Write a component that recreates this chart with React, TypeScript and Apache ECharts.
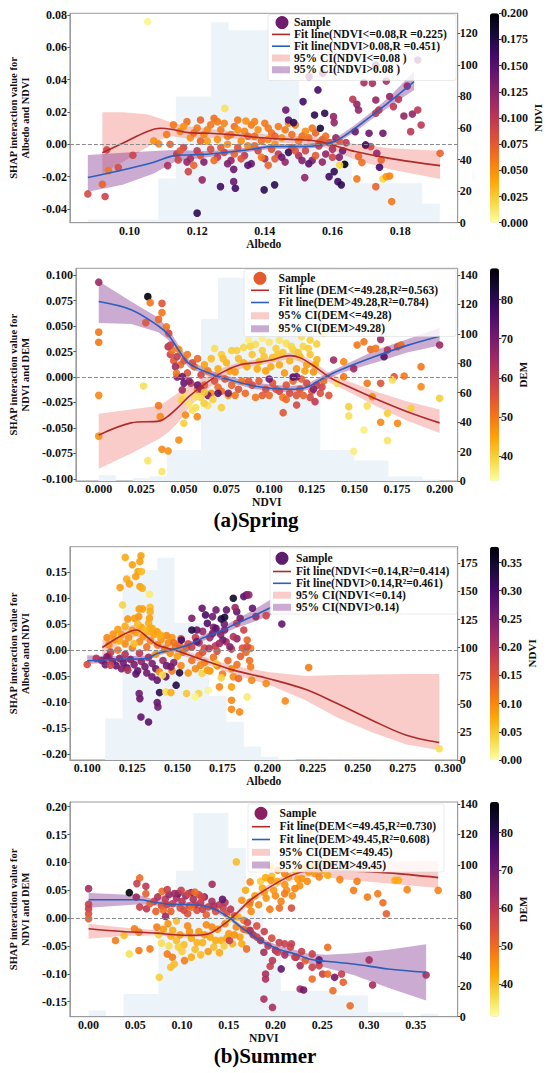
import React, { useEffect, useRef } from 'react';
import * as echarts from 'echarts';

const W = 550;
const H = 1073;
const FONT = '"Liberation Serif", "Times New Roman", serif';
const CMAP = ['#fcffa4', '#f6d746', '#fca50a', '#f37819', '#dd513a', '#bc3754', '#932667', '#6a176e', '#420a68', '#160b39', '#000004'];
const RED = '#b02a2a';
const BLUE = '#2b5fba';
const PINK = 'rgba(240,128,120,0.40)';
const PURPLE = 'rgba(125,45,140,0.40)';
const HIST = '#edf4f9';

// ---------------- Panel 1: Spring, Albedo x NDVI ----------------
const P1_HIST_EDGES = [0.0877, 0.0929, 0.0981, 0.1033, 0.1085, 0.1137, 0.1189, 0.1241, 0.1293, 0.1345, 0.1397, 0.1449, 0.1501, 0.1553, 0.1605, 0.1657, 0.1709, 0.1761, 0.1813, 0.1865, 0.1917];
const P1_HIST_COUNTS = [2, 2, 2, 2, 28, 80, 80, 127, 122, 122, 122, 90, 60, 45, 45, 25, 25, 25, 25, 12];
const P1_RED_X = [0.092, 0.098, 0.1051, 0.1092, 0.1123, 0.1174, 0.1236, 0.1308, 0.141, 0.1513, 0.1564, 0.1615, 0.1667, 0.1769, 0.1918];
const P1_RED_Y = [-0.0052, 0.0006, 0.0078, 0.0099, 0.0093, 0.0072, 0.0068, 0.0058, 0.0037, 0.0027, 0.0016, -0.0014, -0.0045, -0.0087, -0.0132];
const P1_RED_HI = [0.0198, 0.0198, 0.0185, 0.016, 0.0135, 0.011, 0.0095, 0.008, 0.006, 0.005, 0.0042, 0.0025, 0.0002, -0.0025, -0.004];
const P1_RED_LO = [-0.018, -0.011, -0.002, 0.003, 0.005, 0.0035, 0.004, 0.0036, 0.0014, 0.0004, -0.001, -0.005, -0.0095, -0.0155, -0.0215];
const P1_BLUE_X = [0.0877, 0.098, 0.1072, 0.1133, 0.1174, 0.1236, 0.1308, 0.138, 0.142, 0.1513, 0.1564, 0.1615, 0.1667, 0.1718, 0.1769, 0.1841];
const P1_BLUE_Y = [-0.0206, -0.0159, -0.0111, -0.007, -0.0066, -0.006, -0.0045, -0.0025, -0.0014, -0.0014, -0.0004, 0.0027, 0.0099, 0.0181, 0.0264, 0.0388];
const P1_BLUE_HI = [-0.0066, -0.0052, -0.0042, -0.0035, -0.0038, -0.0042, -0.003, -0.0012, 0.0, 0.0, 0.0012, 0.0045, 0.012, 0.0205, 0.0295, 0.045];
const P1_BLUE_LO = [-0.0293, -0.025, -0.018, -0.011, -0.0095, -0.0078, -0.006, -0.0038, -0.0028, -0.0028, -0.002, 0.001, 0.0078, 0.0158, 0.0233, 0.0336];
const P1_POINTS = [
  [0.113, 0.012, 0.06], [0.115, 0.008, 0.055], [0.117, 0.014, 0.065], [0.118, 0.004, 0.05], [0.12, 0.01, 0.06], [0.121, 0.015, 0.07], [0.122, 0.006, 0.055], [0.124, 0.012, 0.06], [0.125, 0.016, 0.065], [0.126, 0.003, 0.05], [0.127, 0.009, 0.06], [0.128, 0.013, 0.055], [0.13, 0.006, 0.06], [0.131, 0.011, 0.065], [0.132, 0.015, 0.06], [0.133, 0.002, 0.05], [0.134, 0.008, 0.055], [0.136, 0.012, 0.06], [0.137, 0.005, 0.065], [0.138, 0.009, 0.05], [0.14, 0.013, 0.06], [0.141, 0.003, 0.055], [0.142, 0.007, 0.065], [0.144, 0.011, 0.06], [0.145, 0.004, 0.05], [0.146, 0.009, 0.06], [0.148, 0.006, 0.065], [0.149, 0.012, 0.055], [0.15, 0.002, 0.06], [0.152, 0.008, 0.05], [0.153, 0.004, 0.065], [0.155, 0.007, 0.07], [0.157, 0.003, 0.075], [0.159, 0.001, 0.08], [0.123, 0.002, 0.045], [0.129, 0.0, 0.05], [0.135, -0.001, 0.055], [0.143, 0.0, 0.05],
  [0.111, 0.006, 0.06], [0.112, 0.0, 0.07], [0.116, 0.011, 0.05], [0.119, 0.007, 0.065], [0.121, 0.002, 0.07], [0.123, 0.009, 0.055], [0.126, 0.014, 0.06], [0.129, 0.005, 0.06], [0.132, 0.009, 0.05], [0.135, 0.005, 0.07], [0.137, 0.014, 0.055], [0.139, 0.002, 0.065], [0.141, 0.01, 0.06], [0.143, 0.005, 0.07], [0.147, 0.013, 0.055], [0.151, 0.005, 0.065], [0.154, 0.01, 0.06], [0.156, 0.001, 0.07], [0.158, 0.005, 0.065],
  [0.114, -0.006, 0.1], [0.116, -0.002, 0.09], [0.118, -0.009, 0.11], [0.12, -0.004, 0.1], [0.122, -0.011, 0.13], [0.124, -0.003, 0.085], [0.126, -0.008, 0.1], [0.128, -0.005, 0.09], [0.13, -0.01, 0.12], [0.132, -0.002, 0.08], [0.134, -0.007, 0.1], [0.136, -0.012, 0.14], [0.138, -0.004, 0.09], [0.14, -0.009, 0.11], [0.142, -0.003, 0.08], [0.144, -0.006, 0.1], [0.146, -0.011, 0.12], [0.148, -0.002, 0.085], [0.15, -0.007, 0.11], [0.152, -0.004, 0.09], [0.154, -0.01, 0.13], [0.156, -0.001, 0.1], [0.158, -0.006, 0.12], [0.16, -0.003, 0.11], [0.162, -0.008, 0.13], [0.164, 0.001, 0.1], [0.161, 0.004, 0.12], [0.163, -0.004, 0.14], [0.147, -0.005, 0.17], [0.139, -0.008, 0.06], [0.131, -0.006, 0.07], [0.125, -0.01, 0.065], [0.119, -0.013, 0.07], [0.153, -0.012, 0.15], [0.141, -0.013, 0.07],
  [0.115, -0.004, 0.075], [0.121, -0.007, 0.08], [0.127, -0.002, 0.075], [0.133, -0.009, 0.08], [0.137, -0.001, 0.07], [0.143, -0.009, 0.075], [0.149, -0.004, 0.08], [0.155, -0.007, 0.075], [0.16, -0.008, 0.09], [0.162, 0.002, 0.08], [0.117, -0.011, 0.12], [0.129, -0.012, 0.13], [0.145, -0.008, 0.14], [0.151, -0.01, 0.13], [0.157, -0.011, 0.12], [0.135, -0.013, 0.15],
  [0.1054, 0.0758, 0.005], [0.0877, -0.0307, 0.085], [0.092, -0.0247, 0.07], [0.0928, -0.0323, 0.09], [0.0933, -0.0035, 0.09], [0.0938, -0.0163, 0.06], [0.0967, -0.0144, 0.085], [0.101, -0.0068, 0.09], [0.1072, 0.0021, 0.05], [0.1087, 0.0002, 0.055], [0.1113, -0.0132, 0.11], [0.1144, -0.0097, 0.09], [0.1174, -0.0169, 0.09], [0.12, -0.0426, 0.17], [0.1215, -0.022, 0.12], [0.1282, 0.0222, 0.015], [0.1269, -0.0262, 0.16], [0.1308, -0.0231, 0.14], [0.1313, -0.0272, 0.16], [0.1308, -0.0155, 0.14], [0.1344, 0.0144, 0.05], [0.1398, -0.0282, 0.17], [0.1429, -0.0251, 0.17], [0.1462, 0.0212, 0.14], [0.147, 0.015, 0.15], [0.1485, 0.0134, 0.17], [0.1513, 0.0264, 0.16], [0.1518, -0.0206, 0.12], [0.1531, 0.0418, 0.13], [0.1557, 0.0336, 0.16], [0.1547, 0.0181, 0.17], [0.1564, 0.0099, 0.18], [0.1577, 0.0192, 0.17], [0.1571, 0.0439, 0.13], [0.159, -0.02, 0.16], [0.1605, -0.0169, 0.17], [0.1616, -0.0231, 0.16], [0.1626, -0.0251, 0.17], [0.1636, -0.0124, 0.2], [0.1621, -0.0128, 0.02], [0.1603, 0.0171, 0.12], [0.1605, 0.0134, 0.12], [0.166, 0.0278, 0.1], [0.1672, 0.0247, 0.12], [0.1677, 0.0212, 0.12], [0.1667, 0.0078, 0.14], [0.1693, 0.0381, 0.11], [0.1718, 0.0377, 0.11], [0.1728, 0.0274, 0.12], [0.1728, 0.0192, 0.1], [0.1708, 0.0068, 0.14], [0.1713, -0.0014, 0.09], [0.1731, -0.0056, 0.12], [0.1744, -0.0097, 0.07], [0.1749, 0.0068, 0.14], [0.1737, 0.0212, 0.1], [0.1759, 0.0391, 0.11], [0.1769, 0.0295, 0.12], [0.178, 0.0233, 0.1], [0.1795, 0.0278, 0.1], [0.1811, 0.0175, 0.12], [0.1836, 0.0187, 0.12], [0.1831, 0.0078, 0.1], [0.1852, 0.0212, 0.1], [0.1672, -0.0214, 0.06], [0.1687, -0.0113, 0.065], [0.1677, -0.0076, 0.07], [0.1698, -0.0008, 0.06], [0.1728, -0.0262, 0.07], [0.1749, -0.0214, 0.02], [0.1759, -0.02, 0.045], [0.1769, -0.0196, 0.055], [0.1775, -0.0354, 0.06], [0.1739, -0.0142, 0.16], [0.1862, 0.0119, 0.1], [0.1918, -0.0056, 0.07], [0.1852, 0.0521, 0.12], [0.1728, 0.049, 0.13], [0.1698, -0.0004, 0.16], [0.1821, 0.036, 0.12],
];

// ---------------- Panel 2: Spring, NDVI x DEM ----------------
const P2_HIST_EDGES = [0, 0.01, 0.02, 0.03, 0.04, 0.05, 0.06, 0.07, 0.08, 0.09, 0.1, 0.11, 0.12, 0.13, 0.14, 0.15, 0.16, 0.17, 0.18, 0.19, 0.2];
const P2_HIST_COUNTS = [4, 0, 2, 3, 21, 21, 110, 138, 138, 110, 103, 103, 57, 21, 21, 14, 14, 3, 3, 1];
const P2_RED_X = [0, 0.019, 0.036, 0.041, 0.047, 0.053, 0.063, 0.073, 0.083, 0.092, 0.102, 0.112, 0.118, 0.126, 0.136, 0.146, 0.162, 0.181, 0.2];
const P2_RED_Y = [-0.057, -0.045, -0.043, -0.038, -0.029, -0.019, -0.006, 0.005, 0.012, 0.014, 0.017, 0.021, 0.019, 0.011, -0.001, -0.009, -0.021, -0.034, -0.045];
const P2_RED_HI = [-0.036, -0.032, -0.028, -0.022, -0.015, -0.008, 0.0, 0.009, 0.015, 0.017, 0.02, 0.024, 0.023, 0.015, 0.003, -0.004, -0.014, -0.024, -0.032];
const P2_RED_LO = [-0.09, -0.075, -0.06, -0.054, -0.044, -0.03, -0.013, 0.0, 0.008, 0.011, 0.014, 0.018, 0.015, 0.007, -0.006, -0.014, -0.028, -0.043, -0.055];
const P2_BLUE_X = [0, 0.019, 0.035, 0.041, 0.047, 0.053, 0.063, 0.073, 0.092, 0.112, 0.122, 0.132, 0.142, 0.162, 0.181, 0.2];
const P2_BLUE_Y = [0.074, 0.066, 0.05, 0.041, 0.026, 0.013, 0.005, -0.001, -0.009, -0.012, -0.01, -0.001, 0.007, 0.02, 0.031, 0.04];
const P2_BLUE_HI = [0.094, 0.074, 0.058, 0.047, 0.031, 0.017, 0.008, 0.002, -0.006, -0.009, -0.007, 0.002, 0.01, 0.026, 0.037, 0.048];
const P2_BLUE_LO = [0.053, 0.052, 0.044, 0.036, 0.021, 0.009, 0.002, -0.004, -0.012, -0.015, -0.013, -0.004, 0.004, 0.014, 0.024, 0.031];
const P2_POINTS = [
  [0.062, 0.012, 45], [0.066, 0.018, 42], [0.07, 0.008, 44], [0.072, 0.022, 40], [0.075, 0.014, 43], [0.078, 0.026, 40], [0.08, 0.005, 46], [0.082, 0.018, 42], [0.085, 0.029, 39], [0.087, 0.01, 44], [0.09, 0.022, 41], [0.092, 0.032, 38], [0.094, 0.015, 43], [0.096, 0.026, 40], [0.098, 0.006, 45], [0.1, 0.034, 37], [0.102, 0.019, 42], [0.104, 0.028, 40], [0.106, 0.012, 44], [0.108, 0.024, 41], [0.11, 0.033, 38], [0.112, 0.016, 43], [0.114, 0.027, 40], [0.116, 0.008, 46], [0.118, 0.02, 42], [0.12, 0.03, 39], [0.122, 0.012, 45], [0.124, 0.022, 41], [0.126, 0.005, 47], [0.128, 0.017, 43], [0.068, 0.028, 38], [0.088, 0.036, 36], [0.096, 0.038, 36], [0.106, 0.036, 37],
  [0.073, 0.018, 42], [0.077, 0.006, 45], [0.081, 0.026, 40], [0.085, 0.014, 43], [0.089, 0.03, 39], [0.093, 0.008, 44], [0.097, 0.02, 41], [0.101, 0.01, 44], [0.105, 0.022, 41], [0.109, 0.004, 46], [0.113, 0.03, 39], [0.117, 0.024, 41], [0.121, 0.006, 45], [0.123, 0.028, 40], [0.127, 0.012, 44],
  [0.052, 0.004, 55], [0.054, -0.006, 60], [0.056, 0.01, 52], [0.058, -0.012, 50], [0.06, 0.002, 58], [0.062, -0.008, 54], [0.064, 0.006, 50], [0.066, -0.016, 48], [0.068, -0.004, 56], [0.07, -0.01, 52], [0.074, -0.002, 55], [0.076, -0.018, 46], [0.078, -0.008, 53], [0.082, -0.012, 55], [0.084, -0.004, 50], [0.086, -0.016, 52], [0.09, -0.008, 56], [0.092, -0.02, 50], [0.094, -0.004, 54], [0.098, -0.012, 57], [0.1, -0.018, 52], [0.102, -0.006, 55], [0.106, -0.014, 58], [0.108, -0.02, 50], [0.11, -0.008, 55], [0.112, -0.016, 57], [0.114, -0.004, 52], [0.118, -0.012, 56], [0.12, -0.018, 53], [0.122, -0.006, 58], [0.125, -0.014, 55], [0.128, -0.008, 60], [0.13, -0.016, 56], [0.132, -0.004, 52],
  [0.072, -0.014, 52], [0.08, -0.018, 50], [0.088, -0.004, 55], [0.096, -0.018, 54], [0.104, -0.012, 56], [0.11, -0.022, 52], [0.116, -0.018, 55], [0.124, -0.02, 57], [0.119, -0.002, 54], [0.131, -0.01, 58], [0.135, -0.018, 55],
  [0.046, 0.0, 70], [0.05, -0.006, 72], [0.053, -0.004, 68], [0.058, -0.008, 72], [0.06, -0.012, 66], [0.064, -0.018, 70], [0.07, -0.016, 74], [0.076, -0.016, 70], [0.1, -0.002, 72], [0.114, 0.0, 76], [0.126, -0.012, 68],
  [0.05, -0.016, 38], [0.053, -0.026, 37], [0.057, -0.03, 38], [0.06, -0.02, 39], [0.064, -0.028, 38], [0.067, -0.022, 40], [0.072, -0.03, 40], [0.062, -0.015, 41],
  [0.042, 0.022, 58], [0.044, 0.016, 55], [0.046, 0.02, 60], [0.048, 0.012, 52], [0.05, 0.016, 55], [0.052, 0.022, 50], [0.055, 0.014, 57], [0.058, 0.018, 52], [0.043, 0.026, 50], [0.047, 0.027, 48],
  [0, 0.093, 65], [0, 0.044, 50], [0, 0.034, 50], [0, -0.018, 48], [0, -0.058, 47], [0.0288, 0.0788, 88], [0.0302, 0.0729, 50], [0.0371, 0.0722, 55], [0.0371, 0.0631, 50], [0.0351, 0.0565, 52], [0.0276, 0.0533, 55], [0.0397, 0.0493, 50], [0.0411, 0.0428, 57], [0.0407, 0.0297, 62], [0.042, 0.0314, 58], [0.0263, -0.0088, 38], [0.0351, -0.0281, 50], [0.0361, -0.0389, 48], [0.0371, -0.0709, 48], [0.0407, -0.0725, 47], [0.0288, -0.082, 37], [0.0371, -0.0928, 37], [0.045, 0.0101, 65], [0.0456, 0.0036, 50], [0.049, 0.0003, 72], [0.049, -0.0127, 65], [0.0486, -0.0225, 40], [0.0499, -0.0454, 40], [0.047, -0.0618, 47], [0.0509, -0.0373, 48], [0.0549, -0.0324, 38], [0.0578, -0.0389, 48], [0.0569, -0.0193, 38], [0.0618, -0.0258, 40],
  [0.1516, 0.0314, 50], [0.1556, 0.0346, 50], [0.1595, 0.0271, 52], [0.1654, 0.0369, 65], [0.1625, 0.0281, 50], [0.1674, 0.0199, 75], [0.1694, 0.0265, 62], [0.1753, 0.0297, 57], [0.1773, 0.0314, 52], [0.1733, 0.0003, 55], [0.1792, 0.001, 50], [0.1723, -0.0029, 38], [0.1891, 0.0101, 50], [0.1891, -0.0095, 48], [0.2, 0.0314, 65], [0.2, -0.0209, 40], [0.1832, -0.0307, 40], [0.1753, -0.0454, 48], [0.1694, -0.0356, 40], [0.1654, -0.0444, 48], [0.1575, -0.0284, 38], [0.1605, -0.0193, 48], [0.1556, -0.052, 36], [0.1496, -0.0729, 36], [0.1467, -0.0291, 40], [0.1467, -0.0382, 38], [0.1694, -0.0624, 37], [0.1654, -0.0062, 55], [0.1575, -0.0062, 50], [0.1496, 0.0082, 65], [0.1437, 0.0003, 50], [0.1378, 0.0167, 65], [0.1398, -0.0062, 38], [0.1437, 0.015, 48], [0.1082, -0.035, 55], [0.1161, -0.0275, 57], [0.1269, -0.0242, 60], [0.1161, 0.0003, 72], [0.1279, 0.0324, 40], [0.1319, 0.0428, 38], [0.124, 0.0363, 40], [0.119, 0.0395, 38], [0.1121, 0.0461, 37], [0.1062, 0.051, 38],
];

// ---------------- Panel 3: Summer, Albedo x NDVI ----------------
const P3_HIST_EDGES = [0.11, 0.1196, 0.1292, 0.1388, 0.1484, 0.158, 0.1676, 0.1772, 0.1868, 0.1964, 0.206, 0.2156];
const P3_HIST_COUNTS = [37, 165, 169, 180, 122, 122, 57, 34, 12, 3, 1];
const P3_RED_X = [0.1084, 0.1196, 0.1273, 0.133, 0.1388, 0.1484, 0.1618, 0.181, 0.2002, 0.2213, 0.2386, 0.2578, 0.277, 0.2952];
const P3_RED_Y = [0.005, 0.029, 0.0386, 0.0258, 0.0097, 0.0, -0.0161, -0.0386, -0.0547, -0.076, -0.103, -0.135, -0.164, -0.178];
const P3_RED_HI = [0.02, 0.042, 0.05, 0.036, 0.017, 0.005, -0.01, -0.03, -0.042, -0.05, -0.048, -0.047, -0.046, -0.046];
const P3_RED_LO = [-0.012, 0.016, 0.027, 0.016, 0.003, -0.005, -0.022, -0.047, -0.066, -0.097, -0.13, -0.158, -0.182, -0.193];
const P3_BLUE_X = [0.1, 0.1138, 0.133, 0.1388, 0.1484, 0.156, 0.1637, 0.1752, 0.1829, 0.1906, 0.2021];
const P3_BLUE_Y = [-0.0206, -0.018, -0.0161, -0.0064, 0.0019, 0.0097, 0.0225, 0.0386, 0.0515, 0.0631, 0.0824];
const P3_BLUE_HI = [-0.01, -0.012, -0.011, -0.002, 0.006, 0.014, 0.028, 0.045, 0.06, 0.074, 0.098];
const P3_BLUE_LO = [-0.027, -0.024, -0.021, -0.011, -0.002, 0.005, 0.017, 0.032, 0.043, 0.052, 0.068];
const P3_POINTS = [
  [0.112, 0.01, 0.1], [0.115, 0.02, 0.09], [0.117, 0.0, 0.12], [0.119, 0.03, 0.08], [0.121, 0.012, 0.1], [0.123, 0.024, 0.09], [0.125, 0.004, 0.11], [0.127, 0.034, 0.08], [0.129, 0.016, 0.1], [0.131, 0.026, 0.09], [0.133, 0.006, 0.12], [0.135, 0.018, 0.1], [0.137, 0.03, 0.08], [0.139, 0.01, 0.11], [0.141, 0.02, 0.09], [0.143, 0.002, 0.12], [0.145, 0.014, 0.1], [0.147, 0.024, 0.09], [0.149, 0.006, 0.11], [0.151, 0.01, 0.13], [0.153, -0.004, 0.12], [0.155, 0.004, 0.14], [0.118, 0.018, 0.07], [0.126, 0.012, 0.06], [0.134, 0.036, 0.07], [0.14, 0.028, 0.06], [0.146, -0.006, 0.1], [0.15, -0.012, 0.08], [0.138, -0.008, 0.09],
  [0.117, 0.04, 0.08], [0.121, 0.046, 0.07], [0.125, 0.038, 0.09], [0.13, 0.044, 0.08], [0.136, 0.042, 0.07], [0.128, 0.05, 0.06], [0.144, 0.028, 0.1], [0.148, 0.014, 0.12], [0.152, 0.022, 0.14], [0.156, 0.012, 0.16], [0.16, 0.024, 0.18], [0.164, 0.036, 0.22], [0.17, 0.044, 0.24], [0.176, 0.05, 0.26], [0.111, 0.024, 0.1],
  [0.108, -0.02, 0.24], [0.11, -0.028, 0.26], [0.112, -0.012, 0.22], [0.114, -0.022, 0.25], [0.116, -0.03, 0.27], [0.118, -0.016, 0.23], [0.12, -0.024, 0.26], [0.122, -0.034, 0.28], [0.124, -0.018, 0.24], [0.126, -0.028, 0.25], [0.128, -0.04, 0.27], [0.13, -0.022, 0.23], [0.132, -0.032, 0.26], [0.134, -0.014, 0.21], [0.136, -0.026, 0.25], [0.138, -0.036, 0.27], [0.142, -0.02, 0.22], [0.144, -0.03, 0.26], [0.148, -0.024, 0.24], [0.105, -0.016, 0.2], [0.113, -0.004, 0.18], [0.121, -0.008, 0.2], [0.129, -0.006, 0.19], [0.119, -0.036, 0.25], [0.127, -0.046, 0.28], [0.133, -0.044, 0.26],
  [0.14, -0.042, 0.1], [0.143, -0.05, 0.08], [0.147, -0.04, 0.11], [0.152, -0.03, 0.1], [0.156, -0.044, 0.09], [0.158, -0.02, 0.12], [0.16, -0.036, 0.1], [0.162, -0.01, 0.13], [0.165, -0.024, 0.11], [0.168, -0.04, 0.09], [0.17, -0.014, 0.12], [0.172, -0.03, 0.1], [0.175, -0.046, 0.11], [0.178, -0.02, 0.13], [0.18, -0.036, 0.1], [0.183, -0.028, 0.12], [0.185, -0.012, 0.14], [0.188, -0.004, 0.13], [0.19, -0.02, 0.12], [0.186, 0.004, 0.15],
  [0.158, 0.006, 0.18], [0.162, 0.014, 0.2], [0.165, 0.004, 0.17], [0.168, 0.024, 0.22], [0.171, 0.008, 0.19], [0.174, 0.03, 0.24], [0.177, 0.016, 0.21], [0.18, 0.002, 0.18], [0.183, 0.022, 0.23], [0.172, -0.002, 0.16], [0.164, -0.004, 0.15],
  [0.1211, 0.1783, 0.07], [0.125, 0.1642, 0.08], [0.1298, 0.1816, 0.08], [0.1292, 0.1706, 0.08], [0.1282, 0.1513, 0.08], [0.1301, 0.1513, 0.06], [0.1269, 0.1416, 0.08], [0.1219, 0.1365, 0.07], [0.1234, 0.1275, 0.08], [0.1182, 0.1204, 0.08], [0.1292, 0.1223, 0.08], [0.1305, 0.1191, 0.07], [0.1345, 0.1075, 0.02], [0.1196, 0.0869, 0.04], [0.1288, 0.0792, 0.08], [0.1307, 0.0792, 0.08], [0.1349, 0.0824, 0.06], [0.1349, 0.074, 0.07], [0.1225, 0.0599, 0.09], [0.1263, 0.0612, 0.08], [0.1286, 0.0644, 0.09], [0.1345, 0.0612, 0.08], [0.134, 0.0515, 0.07], [0.1349, 0.0418, 0.07], [0.132, 0.0386, 0.06], [0.1388, 0.0354, 0.08], [0.1407, 0.029, 0.07], [0.1144, 0.0309, 0.09],
  [0.1, -0.0277, 0.16], [0.1109, -0.0129, 0.25], [0.1129, -0.029, 0.17], [0.1225, -0.0386, 0.2], [0.1292, -0.0934, 0.27], [0.1288, -0.0837, 0.26], [0.1298, -0.1288, 0.27], [0.134, -0.1384, 0.28], [0.1388, -0.1011, 0.27], [0.1392, -0.1094, 0.26], [0.1401, -0.0818, 0.32], [0.1359, -0.0515, 0.26], [0.1388, -0.0579, 0.27], [0.1436, -0.0515, 0.27], [0.1493, -0.0676, 0.33], [0.1512, -0.0438, 0.33], [0.1464, -0.0322, 0.26], [0.1417, -0.0483, 0.03], [0.1436, -0.0805, 0.03], [0.1464, -0.0818, 0.07],
  [0.1551, -0.0837, 0.05], [0.1618, -0.0837, 0.04], [0.1599, -0.0901, 0.01], [0.1672, -0.0773, 0.01], [0.1733, -0.0708, 0.1], [0.1743, -0.0534, 0.04], [0.18, -0.0708, 0.08], [0.18, -0.0966, 0.1], [0.18, -0.114, 0.1], [0.1845, -0.1191, 0.1], [0.181, -0.0515, 0.1], [0.1839, -0.0547, 0.13], [0.1887, -0.0901, 0.02], [0.1906, -0.0322, 0.11], [0.1912, -0.0579, 0.1], [0.1992, -0.0644, 0.1], [0.2098, -0.0979, 0.1], [0.2228, -0.0335, 0.11], [0.2952, -0.1899, 0.03], [0.1628, -0.029, 0.1], [0.1637, -0.0451, 0.04], [0.1666, -0.0386, 0.08], [0.1714, -0.0258, 0.05],
  [0.158, 0.0612, 0.25], [0.1608, 0.0386, 0.27], [0.1637, 0.0805, 0.27], [0.1656, 0.0676, 0.3], [0.1695, 0.0644, 0.26], [0.1714, 0.0418, 0.28], [0.1743, 0.0599, 0.33], [0.1762, 0.0631, 0.34], [0.1714, 0.0773, 0.26], [0.1772, 0.0773, 0.27], [0.1829, 0.074, 0.27], [0.182, 0.0818, 0.22], [0.181, 0.0998, 0.35], [0.1868, 0.103, 0.28], [0.1883, 0.1062, 0.27], [0.1896, 0.1062, 0.23], [0.1916, 0.0805, 0.27], [0.1935, 0.0644, 0.22], [0.1992, 0.0663, 0.17], [0.2079, 0.0502, 0.27], [0.158, 0.0386, 0.33], [0.1608, 0.0161, 0.27], [0.1676, 0.0032, 0.2], [0.1752, 0.0193, 0.26], [0.1829, 0.0515, 0.18], [0.1868, 0.0386, 0.17], [0.1887, 0.0193, 0.13], [0.1906, 0.0032, 0.11], [0.1887, 0.0064, 0.16], [0.181, 0.0258, 0.2], [0.1791, 0.0064, 0.24], [0.1733, 0.0129, 0.22], [0.1695, 0.0322, 0.25], [0.1762, 0.0386, 0.24], [0.1848, 0.0612, 0.25], [0.1666, 0.0515, 0.29], [0.1522, 0.0193, 0.3],
];

// ---------------- Panel 4: Summer, NDVI x DEM ----------------
const P4_HIST_EDGES = [0, 0.0187, 0.0374, 0.0561, 0.0748, 0.0935, 0.1122, 0.1309, 0.1496, 0.1683, 0.187, 0.2057, 0.2244, 0.2431, 0.2618, 0.2805, 0.2992, 0.3179, 0.3366, 0.3553, 0.374];
const P4_HIST_COUNTS = [4, 0, 15, 15, 61, 96, 134, 134, 111, 70, 41, 17, 17, 17, 14, 14, 3, 3, 0, 2];
const P4_RED_X = [0, 0.036, 0.073, 0.0916, 0.11, 0.1285, 0.1433, 0.158, 0.1728, 0.1913, 0.2098, 0.2282, 0.2467, 0.2836, 0.3205, 0.3741];
const P4_RED_Y = [-0.0192, -0.024, -0.027, -0.03, -0.031, -0.028, -0.0132, 0.0078, 0.0318, 0.0529, 0.0709, 0.0829, 0.0847, 0.0841, 0.0811, 0.0727];
const P4_RED_HI = [-0.0102, -0.017, -0.022, -0.026, -0.027, -0.024, -0.009, 0.012, 0.037, 0.059, 0.078, 0.092, 0.1, 0.102, 0.102, 0.102];
const P4_RED_LO = [-0.0372, -0.032, -0.031, -0.034, -0.035, -0.032, -0.017, 0.003, 0.026, 0.046, 0.063, 0.074, 0.074, 0.068, 0.062, 0.054];
const P4_BLUE_X = [0, 0.0547, 0.0694, 0.0879, 0.11, 0.1285, 0.147, 0.1654, 0.1839, 0.2024, 0.2208, 0.2356, 0.2541, 0.2836, 0.3205, 0.3612];
const P4_BLUE_Y = [0.033, 0.033, 0.0288, 0.0246, 0.024, 0.0198, 0.0048, -0.0192, -0.0402, -0.0553, -0.0643, -0.0733, -0.0775, -0.0823, -0.0913, -0.0973];
const P4_BLUE_HI = [0.045, 0.041, 0.034, 0.029, 0.028, 0.024, 0.009, -0.015, -0.035, -0.049, -0.057, -0.064, -0.066, -0.063, -0.057, -0.047];
const P4_BLUE_LO = [0.0186, 0.025, 0.023, 0.02, 0.02, 0.016, 0.001, -0.023, -0.045, -0.061, -0.072, -0.082, -0.089, -0.102, -0.125, -0.148];
const P4_POINTS = [
  [0.07, 0.03, 58], [0.074, 0.038, 62], [0.078, 0.022, 55], [0.082, 0.034, 60], [0.086, 0.042, 65], [0.09, 0.026, 58], [0.094, 0.036, 62], [0.098, 0.018, 55], [0.1, 0.03, 60], [0.104, 0.04, 64], [0.108, 0.022, 57], [0.112, 0.034, 62], [0.116, 0.014, 55], [0.12, 0.028, 60], [0.124, 0.038, 66], [0.128, 0.02, 57], [0.132, 0.03, 62], [0.136, 0.012, 55], [0.14, 0.024, 60], [0.144, 0.018, 58], [0.148, 0.008, 55], [0.152, 0.016, 60], [0.156, 0.004, 56], [0.11, 0.046, 68], [0.096, 0.044, 70], [0.118, 0.042, 56], [0.088, 0.012, 52], [0.106, 0.008, 54], [0.126, 0.006, 52], [0.08, 0.014, 50],
  [0.072, 0.012, 52], [0.084, 0.024, 58], [0.092, 0.044, 64], [0.102, 0.014, 56], [0.114, 0.024, 60], [0.122, 0.016, 58], [0.134, 0.022, 62], [0.146, 0.028, 60],
  [0.085, -0.01, 45], [0.09, -0.022, 42], [0.094, -0.04, 40], [0.098, -0.03, 44], [0.102, -0.048, 40], [0.106, -0.014, 46], [0.11, -0.036, 42], [0.114, -0.056, 40], [0.118, -0.024, 44], [0.122, -0.044, 41], [0.126, -0.012, 46], [0.13, -0.034, 43], [0.134, -0.052, 40], [0.138, -0.02, 45], [0.142, -0.04, 42], [0.146, -0.01, 47], [0.15, -0.028, 44], [0.154, -0.046, 41], [0.158, -0.016, 46], [0.162, -0.034, 43], [0.166, -0.004, 48], [0.17, -0.022, 45], [0.12, -0.066, 40], [0.11, -0.07, 42], [0.1, -0.06, 38], [0.128, -0.06, 44], [0.14, -0.062, 42], [0.094, -0.005, 40], [0.08, -0.02, 44], [0.075, -0.03, 38], [0.078, -0.045, 36], [0.086, -0.05, 36], [0.15, -0.002, 38], [0.16, 0.002, 42], [0.145, -0.05, 38],
  [0.088, -0.032, 42], [0.096, -0.052, 38], [0.108, -0.024, 45], [0.116, -0.044, 41], [0.124, -0.03, 44], [0.132, -0.016, 46], [0.136, -0.04, 42], [0.148, -0.036, 43], [0.156, -0.03, 45], [0.164, -0.046, 42],
  [0.174, 0.012, 46], [0.178, 0.04, 44], [0.182, 0.024, 46], [0.186, 0.054, 42], [0.19, 0.036, 45], [0.194, 0.016, 48], [0.198, 0.05, 44], [0.202, 0.066, 42], [0.206, 0.03, 47], [0.21, 0.06, 45], [0.214, 0.074, 43], [0.218, 0.04, 46], [0.222, 0.084, 42], [0.226, 0.058, 45], [0.23, 0.09, 41], [0.234, 0.066, 46], [0.238, 0.096, 40], [0.242, 0.08, 44], [0.246, 0.1, 40], [0.25, 0.086, 43], [0.196, 0.075, 40], [0.184, 0.066, 38], [0.168, 0.05, 42], [0.164, 0.032, 45], [0.172, 0.024, 46], [0.188, 0.046, 44], [0.2, 0.04, 46], [0.212, 0.05, 45], [0.224, 0.07, 44],
  [0.176, -0.03, 60], [0.18, -0.014, 55], [0.184, -0.04, 62], [0.188, -0.024, 58], [0.192, -0.05, 60], [0.196, -0.036, 55], [0.2, -0.058, 62], [0.204, -0.044, 58], [0.21, -0.066, 63], [0.216, -0.052, 57], [0.222, -0.07, 62], [0.228, -0.06, 58], [0.17, -0.008, 57], [0.166, -0.02, 52],
  [0, 0.0529, 63], [0, 0.0246, 58], [0, 0.0168, 58], [0, 0.0078, 55], [0, -0.0012, 52], [0.0436, 0.0456, 88], [0.0547, 0.0721, 50], [0.0517, 0.0619, 58], [0.0613, 0.0571, 60], [0.0613, 0.0438, 52], [0.051, 0.0378, 65], [0.0547, 0.0198, 58], [0.062, 0.0168, 60], [0.0657, 0.0258, 52], [0.0288, -0.0402, 48], [0.038, -0.0312, 40], [0.0436, -0.0643, 36], [0.0539, -0.0583, 48], [0.0657, -0.0553, 48], [0.0491, -0.0192, 48], [0.0539, -0.0252, 48], [0.0731, -0.0162, 48], [0.0757, -0.1063, 38], [0.0824, 0.003, 65], [0.0842, -0.0643, 48], [0.0897, -0.0703, 48], [0.0879, -0.0883, 40], [0.0916, -0.0823, 40], [0.1027, -0.0763, 48],
  [0.0787, 0.048, 50], [0.0842, 0.0511, 58], [0.099, 0.0498, 58], [0.1064, 0.0438, 56], [0.1137, 0.0468, 50], [0.1211, 0.0378, 56], [0.1322, 0.0607, 63], [0.1433, 0.0336, 72], [0.11, 0.0198, 50],
  [0.1581, 0.1009, 40], [0.1728, 0.0649, 47], [0.1728, 0.0288, 48], [0.1894, 0.0727, 42], [0.195, 0.0919, 38], [0.2024, 0.0859, 45], [0.2098, 0.0799, 47], [0.195, 0.0679, 45], [0.2098, 0.0438, 48], [0.2171, 0.018, 55], [0.2042, 0.018, 50], [0.2208, 0.0529, 47], [0.2282, 0.0709, 45], [0.2356, 0.0829, 45], [0.2467, 0.0739, 47], [0.2559, 0.0769, 42], [0.2689, 0.0691, 47], [0.2873, 0.0661, 48], [0.2836, 0.0498, 48], [0.2984, 0.0378, 48], [0.3095, 0.0438, 48], [0.315, 0.0276, 50], [0.3187, 0.0078, 52], [0.3279, 0.0679, 42], [0.3316, 0.0679, 42], [0.3409, 0.0511, 47], [0.3741, 0.0498, 47], [0.2264, 0.173, 40], [0.2356, 0.155, 42], [0.2559, 0.1039, 40], [0.2448, 0.0919, 45], [0.2596, 0.0937, 47],
  [0.1876, -0.0613, 63], [0.1894, -0.1003, 62], [0.1894, -0.1093, 62], [0.1876, -0.1453, 62], [0.1968, -0.1604, 62], [0.1943, -0.0865, 58], [0.2061, -0.0913, 72], [0.2098, -0.0462, 58], [0.2171, -0.0462, 58], [0.2208, -0.0703, 58], [0.2264, -0.0853, 63], [0.2264, -0.1273, 63], [0.2301, -0.1291, 70], [0.2393, -0.0883, 58], [0.2393, -0.1093, 50], [0.2467, -0.0853, 58], [0.2504, -0.1003, 58], [0.2559, -0.0523, 50], [0.2559, -0.1003, 50], [0.2615, -0.1303, 50], [0.2725, -0.1153, 52], [0.2633, -0.1063, 70], [0.2707, -0.1003, 58], [0.2799, -0.1574, 50], [0.2467, -0.0751, 72], [0.3002, -0.0751, 63], [0.3039, -0.1201, 63], [0.3612, -0.1021, 63], [0.2393, -0.0643, 58], [0.2319, -0.0763, 52], [0.1728, -0.0222, 63], [0.1802, -0.0342, 58], [0.1691, -0.0553, 50], [0.1968, -0.0763, 60], [0.2024, -0.0613, 58], [0.1507, -0.0402, 58],
];

// ---------------- Texts ----------------
const LEGEND_TEXTS = [
  ['Sample', 'Fit line(NDVI<=0.08,R =0.225)', 'Fit line(NDVI>0.08,R =0.451)', '95% CI(NDVI<=0.08 )', '95% CI(NDVI>0.08 )'],
  ['Sample', 'Fit line (DEM<=49.28,R²=0.563)', 'Fit line(DEM>49.28,R²=0.784)', '95% CI(DEM<=49.28)', '95% CI(DEM>49.28)'],
  ['Sample', 'Fit line(NDVI<=0.14,R²=0.414)', 'Fit line(NDVI>0.14,R²=0.461)', '95% CI(NDVI<=0.14)', '95% CI(NDVI>0.14)'],
  ['Sample', 'Fit line(DEM<=49.45,R²=0.730)', 'Fit line(DEM>49.45,R²=0.608)', '95% CI(DEM<=49.45)', '95% CI(DEM>49.45)'],
];
const X_NAMES = ['Albedo', 'NDVI', 'Albedo', 'NDVI'];
const Y_NAMES = ['SHAP interaction value for\nAlbedo and NDVI', 'SHAP interaction value for\nNDVI and DEM', 'SHAP interaction value for\nAlbedo and NDVI', 'SHAP interaction value for\nNDVI and DEM'];
const C_NAMES = ['NDVI', 'DEM', 'NDVI', 'DEM'];
const TITLES = ['(a)Spring', '(b)Summer'];

type Panel = {
  top: number; h: number;
  xMin: number; xMax: number; xStep: number; xDec: number;
  yMin: number; yMax: number; yStep: number; yDec: number;
  rMax: number; rStep: number;
  cMin: number; cMax: number; cStep: number; cDec: number;
  yNameGap: number; cNameGap: number;
  edges: number[]; counts: number[];
  pts: number[][];
  redX: number[]; redY: number[]; redHi: number[]; redLo: number[];
  blueX: number[]; blueY: number[]; blueHi: number[]; blueLo: number[];
  lg: { bx: number; by: number; bw: number; bh: number; mx: number; lx: number; tx: number; rows: number[]; mColor: string };
};

const PANELS: Panel[] = [
  {
    top: 13.3, h: 209.4, xMin: 0.0824, xMax: 0.197, xStep: 0.02, xDec: 2, yMin: -0.0485, yMax: 0.081, yStep: 0.02, yDec: 2,
    rMax: 132.7, rStep: 20, cMin: 0, cMax: 0.2, cStep: 0.025, cDec: 3, yNameGap: 27, cNameGap: 33,
    edges: P1_HIST_EDGES, counts: P1_HIST_COUNTS, pts: P1_POINTS,
    redX: P1_RED_X, redY: P1_RED_Y, redHi: P1_RED_HI, redLo: P1_RED_LO,
    blueX: P1_BLUE_X, blueY: P1_BLUE_Y, blueHi: P1_BLUE_HI, blueLo: P1_BLUE_LO,
    lg: { bx: 268, by: 14.5, bw: 188, bh: 66, mx: 282, lx: 272, tx: 294, rows: [22.6, 34.4, 46.2, 58, 69.8], mColor: '#6e1d6e' },
  },
  {
    top: 268.3, h: 212.7, xMin: -0.0134, xMax: 0.2106, xStep: 0.025, xDec: 3, yMin: -0.102, yMax: 0.1066, yStep: 0.025, yDec: 3,
    rMax: 144.5, rStep: 20, cMin: 33.6, cMax: 88, cStep: 10, cDec: 0, yNameGap: 35, cNameGap: 18,
    edges: P2_HIST_EDGES, counts: P2_HIST_COUNTS, pts: P2_POINTS,
    redX: P2_RED_X, redY: P2_RED_Y, redHi: P2_RED_HI, redLo: P2_RED_LO,
    blueX: P2_BLUE_X, blueY: P2_BLUE_Y, blueHi: P2_BLUE_HI, blueLo: P2_BLUE_LO,
    lg: { bx: 244, by: 269.5, bw: 212, bh: 67, mx: 260, lx: 251, tx: 278.6, rows: [278.3, 290.3, 302.5, 315.7, 328.8], mColor: '#e35a2e' },
  },
  {
    top: 546.7, h: 213.3, xMin: 0.0904, xMax: 0.3054, xStep: 0.025, xDec: 3, yMin: -0.2116, yMax: 0.199, yStep: 0.05, yDec: 2,
    rMax: 189.8, rStep: 25, cMin: 0, cMax: 0.378, cStep: 0.05, cDec: 2, yNameGap: 30, cNameGap: 27,
    edges: P3_HIST_EDGES, counts: P3_HIST_COUNTS, pts: P3_POINTS,
    redX: P3_RED_X, redY: P3_RED_Y, redHi: P3_RED_HI, redLo: P3_RED_LO,
    blueX: P3_BLUE_X, blueY: P3_BLUE_Y, blueHi: P3_BLUE_HI, blueLo: P3_BLUE_LO,
    lg: { bx: 270, by: 548, bw: 187, bh: 66, mx: 282, lx: 273, tx: 296, rows: [558.3, 571.5, 583.3, 595.2, 607.3], mColor: '#5e1c6c' },
  },
  {
    top: 802, h: 214.7, xMin: -0.02, xMax: 0.395, xStep: 0.05, xDec: 2, yMin: -0.177, yMax: 0.2084, yStep: 0.05, yDec: 2,
    rMax: 141.3, rStep: 20, cMin: 31.3, cMax: 88.1, cStep: 10, cDec: 0, yNameGap: 28, cNameGap: 18,
    edges: P4_HIST_EDGES, counts: P4_HIST_COUNTS, pts: P4_POINTS,
    redX: P4_RED_X, redY: P4_RED_Y, redHi: P4_RED_HI, redLo: P4_RED_LO,
    blueX: P4_BLUE_X, blueY: P4_BLUE_Y, blueHi: P4_BLUE_HI, blueLo: P4_BLUE_LO,
    lg: { bx: 248, by: 804, bw: 196, bh: 68, mx: 261, lx: 252, tx: 279.6, rows: [813.3, 826.7, 839.5, 852.3, 865], mColor: '#8c1f62' },
  },
];

const PLOT_LEFT = 62.8;
const PLOT_W = 394.9;
const CB_LEFT = 490;
const CB_W = 9;

const isMult = (v: number, s: number) => Math.abs(v / s - Math.round(v / s)) < 1e-6;
const labelStyle = { fontSize: 12, fontWeight: 'bold' as const, color: '#111', fontFamily: FONT };
const nameStyle = (size: number) => ({ fontSize: size, fontWeight: 'bold' as const, color: '#111', fontFamily: FONT, lineHeight: 11.5 });
const axisLine = { show: true, onZero: false, lineStyle: { color: '#9a9a9a' } };

function histData(edges: number[], counts: number[]) {
  const d = counts.map((c, i) => [edges[i], c]);
  d.push([edges[edges.length - 1], counts[counts.length - 1]]);
  return d;
}

function band(xs: number[], lo: number[], hi: number[], color: string, xi: number, yi: number) {
  return {
    type: 'custom', xAxisIndex: xi, yAxisIndex: yi, z: 1, silent: true,
    data: [[xs[0], lo[0]]],
    renderItem: (_p: any, api: any) => {
      const pts: number[][] = [];
      for (let k = 0; k < xs.length; k++) pts.push(api.coord([xs[k], hi[k]]));
      for (let k = xs.length - 1; k >= 0; k--) pts.push(api.coord([xs[k], lo[k]]));
      return { type: 'polygon', shape: { points: pts }, style: { fill: color } };
    },
  };
}

function buildOption() {
  const grid: any[] = [];
  const xAxis: any[] = [];
  const yAxis: any[] = [];
  const series: any[] = [];
  const visualMap: any[] = [];
  const graphic: any[] = [];

  PANELS.forEach((p, i) => {
    grid.push({ left: PLOT_LEFT, top: p.top, width: PLOT_W, height: p.h, show: true, borderColor: '#9a9a9a', borderWidth: 1 });
    grid.push({ left: CB_LEFT, top: p.top, width: CB_W, height: p.h, show: false });
    const gx = xAxis.length;
    xAxis.push({
      type: 'value', gridIndex: 2 * i, min: p.xMin, max: p.xMax, minInterval: p.xStep, maxInterval: p.xStep,
      name: X_NAMES[i], nameLocation: 'middle', nameGap: 13, nameTextStyle: nameStyle(11.5),
      axisLine, axisTick: { show: false }, splitLine: { show: false },
      axisLabel: { ...labelStyle, margin: 2, showMinLabel: isMult(p.xMin, p.xStep), showMaxLabel: isMult(p.xMax, p.xStep), formatter: (v: number) => v.toFixed(p.xDec) },
    });
    xAxis.push({ type: 'value', gridIndex: 2 * i + 1, min: 0, max: 1, show: false });
    const gy = yAxis.length;
    yAxis.push({
      type: 'value', gridIndex: 2 * i, position: 'left', min: p.yMin, max: p.yMax, minInterval: p.yStep, maxInterval: p.yStep,
      name: Y_NAMES[i], nameLocation: 'middle', nameRotate: 90, nameGap: p.yNameGap, nameTextStyle: nameStyle(10.5),
      axisLine, axisTick: { show: true, length: 2.5, lineStyle: { color: '#555' } }, splitLine: { show: false },
      axisLabel: { ...labelStyle, margin: 3, showMinLabel: isMult(p.yMin, p.yStep), showMaxLabel: isMult(p.yMax, p.yStep), formatter: (v: number) => v.toFixed(p.yDec) },
    });
    yAxis.push({
      type: 'value', gridIndex: 2 * i, position: 'right', min: 0, max: p.rMax, interval: p.rStep,
      name: 'Distribution', nameLocation: 'middle', nameRotate: 90, nameGap: 18, nameTextStyle: nameStyle(10.5),
      axisLine, axisTick: { show: true, length: 2.5, lineStyle: { color: '#555' } }, splitLine: { show: false },
      axisLabel: { ...labelStyle, margin: 2, showMaxLabel: isMult(p.rMax, p.rStep), formatter: (v: number) => String(Math.round(v)) },
    });
    yAxis.push({
      type: 'value', gridIndex: 2 * i + 1, position: 'right', min: p.cMin, max: p.cMax, minInterval: p.cStep, maxInterval: p.cStep,
      name: C_NAMES[i], nameLocation: 'middle', nameRotate: 90, nameGap: p.cNameGap, nameTextStyle: nameStyle(11),
      axisLine: { show: false, onZero: false }, axisTick: { show: true, length: 2.5, lineStyle: { color: '#333' } }, splitLine: { show: false },
      axisLabel: { ...labelStyle, margin: 2, showMinLabel: isMult(p.cMin, p.cStep), showMaxLabel: isMult(p.cMax, p.cStep), formatter: (v: number) => v.toFixed(p.cDec) },
    });

    series.push({
      type: 'line', xAxisIndex: gx, yAxisIndex: gy + 1, step: 'end', symbol: 'none', silent: true, z: 0,
      lineStyle: { width: 0, opacity: 0 }, areaStyle: { color: HIST, opacity: 1 },
      data: histData(p.edges, p.counts),
    });
    series.push(band(p.redX, p.redLo, p.redHi, PINK, gx, gy));
    series.push(band(p.blueX, p.blueLo, p.blueHi, PURPLE, gx, gy));
    const scatterIdx = series.length;
    series.push({
      type: 'scatter', xAxisIndex: gx, yAxisIndex: gy, z: 2, symbolSize: 7.6, silent: true,
      itemStyle: { opacity: 0.9 }, data: p.pts,
      markLine: { silent: true, symbol: ['none', 'none'], label: { show: false }, lineStyle: { color: '#8a8a8a', type: 'dashed', width: 1 }, data: [{ yAxis: 0 }] },
    });
    series.push({
      type: 'line', xAxisIndex: gx, yAxisIndex: gy, z: 3, smooth: 0.35, symbol: 'none', silent: true,
      lineStyle: { color: RED, width: 1.6 }, data: p.redX.map((x, k) => [x, p.redY[k]]),
    });
    series.push({
      type: 'line', xAxisIndex: gx, yAxisIndex: gy, z: 3, smooth: 0.35, symbol: 'none', silent: true,
      lineStyle: { color: BLUE, width: 1.6 }, data: p.blueX.map((x, k) => [x, p.blueY[k]]),
    });

    visualMap.push({
      type: 'continuous', seriesIndex: scatterIdx, dimension: 2, min: p.cMin, max: p.cMax,
      inRange: { color: CMAP.slice() }, left: CB_LEFT, top: p.top, itemWidth: CB_W, itemHeight: p.h,
      padding: 0, calculable: false, hoverLink: false, orient: 'vertical', show: true,
    });

    const L = p.lg;
    const T = LEGEND_TEXTS[i];
    const els: any[] = [
      { type: 'rect', shape: { x: L.bx, y: L.by, width: L.bw, height: L.bh, r: 2 }, style: { fill: 'rgba(255,255,255,0.8)', stroke: 'rgba(210,210,210,0.8)', lineWidth: 0.6 }, z: 20 },
      { type: 'circle', shape: { cx: L.mx, cy: L.rows[0], r: 6.5 }, style: { fill: L.mColor }, z: 21 },
      { type: 'line', shape: { x1: L.lx, y1: L.rows[1], x2: L.lx + 18, y2: L.rows[1] }, style: { stroke: RED, lineWidth: 1.6 }, z: 21 },
      { type: 'line', shape: { x1: L.lx, y1: L.rows[2], x2: L.lx + 18, y2: L.rows[2] }, style: { stroke: BLUE, lineWidth: 1.6 }, z: 21 },
      { type: 'rect', shape: { x: L.lx, y: L.rows[3] - 3.5, width: 18, height: 7 }, style: { fill: PINK }, z: 21 },
      { type: 'rect', shape: { x: L.lx, y: L.rows[4] - 3.5, width: 18, height: 7 }, style: { fill: PURPLE }, z: 21 },
    ];
    T.forEach((t, k) => {
      els.push({ type: 'text', x: L.tx, y: L.rows[k], z: 21, style: { text: t, fontSize: 11.6, lineHeight: 10.5, fontWeight: 'bold', fontFamily: FONT, fill: '#111', verticalAlign: 'middle', align: 'left' } });
    });
    graphic.push(...els);
  });

  graphic.push({ type: 'text', x: 256, y: 520, z: 21, style: { text: TITLES[0], fontSize: 21, fontWeight: 'bold', fontFamily: FONT, fill: '#000', align: 'center', verticalAlign: 'middle' } });
  graphic.push({ type: 'text', x: 265, y: 1056, z: 21, style: { text: TITLES[1], fontSize: 21, fontWeight: 'bold', fontFamily: FONT, fill: '#000', align: 'center', verticalAlign: 'middle' } });

  return {
    animation: false,
    backgroundColor: '#fff',
    textStyle: { fontFamily: FONT },
    grid, xAxis, yAxis, series, visualMap, graphic,
  };
}

export default function App() {
  const ref = useRef<HTMLDivElement>(null);
  useEffect(() => {
    const el = ref.current;
    if (!el) return;
    const chart = echarts.init(el, undefined, { renderer: 'svg', width: W, height: H });
    chart.setOption(buildOption() as any);
    return () => chart.dispose();
  }, []);
  return <div ref={ref} style={{ position: 'fixed', left: 0, top: 0, width: W, height: H, background: '#fff' }} />;
}
